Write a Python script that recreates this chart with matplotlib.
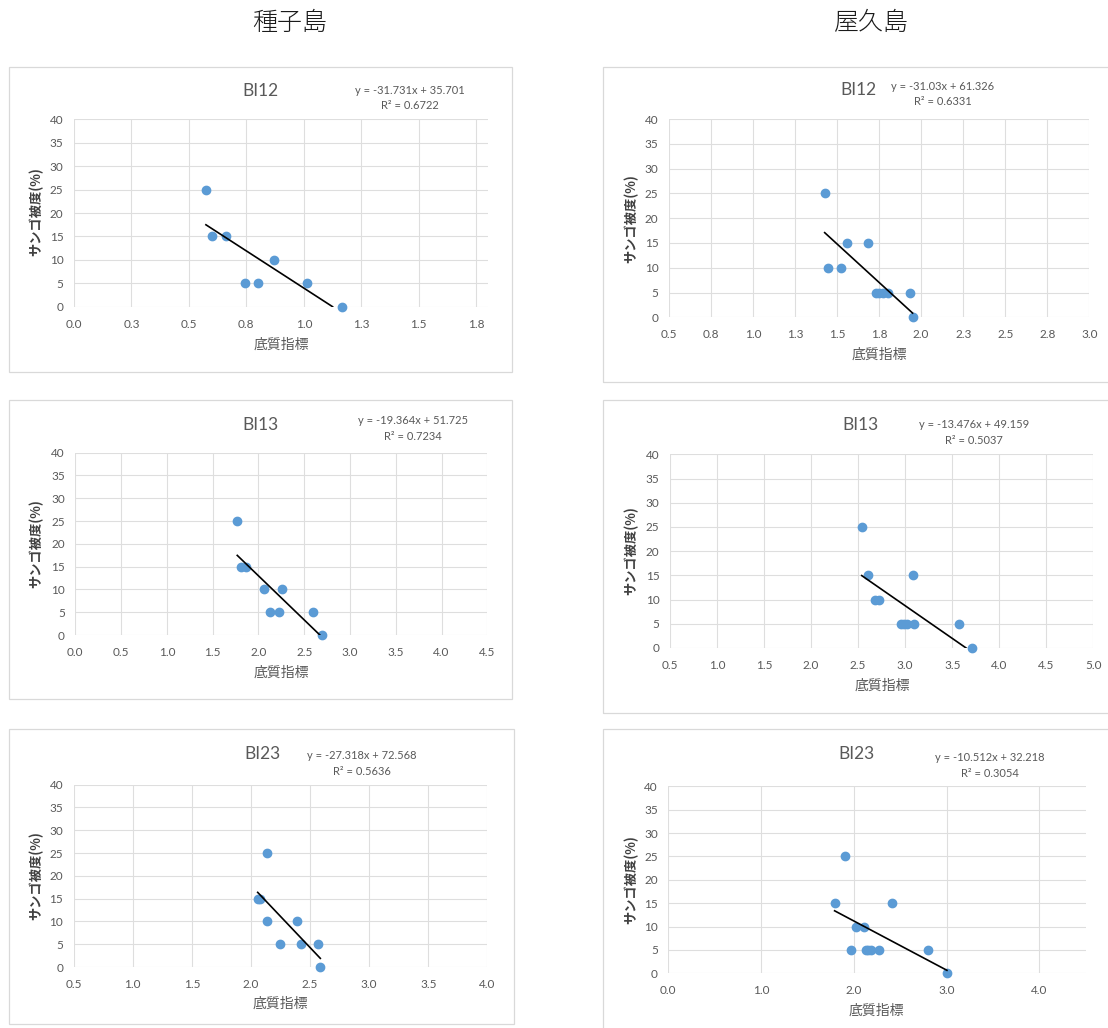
import matplotlib
matplotlib.use("Agg")
import matplotlib.pyplot as plt
from matplotlib.patches import Rectangle
import numpy as np

plt.rcParams['font.family'] = ['Lato', 'Noto Sans CJK JP', 'DejaVu Sans']

W, H = 1108, 1028

# ---- data -------------------------------------------------------------
island_names = ["種子島", "屋久島"]
index_names = ["BI12", "BI13", "BI23"]

# 種子島
tane_bi12_x = [0.574, 0.600, 0.663, 0.869, 0.746, 0.801, 1.014, 1.165]
tane_bi12_y = [25, 15, 15, 10, 5, 5, 5, 0]
tane_bi13_x = [1.769, 1.813, 1.864, 2.057, 2.253, 2.126, 2.224, 2.599, 2.694]
tane_bi13_y = [25, 15, 15, 10, 10, 5, 5, 5, 0]
tane_bi23_x = [2.138, 2.057, 2.079, 2.138, 2.392, 2.243, 2.426, 2.570, 2.587]
tane_bi23_y = [25, 15, 15, 10, 10, 5, 5, 5, 0]

# 屋久島
yaku_bi12_x = [1.426, 1.557, 1.682, 1.446, 1.523, 1.731, 1.751, 1.771, 1.805, 1.933, 1.949]
yaku_bi12_y = [25, 15, 15, 10, 10, 5, 5, 5, 5, 5, 0]
yaku_bi13_x = [2.538, 2.601, 3.083, 2.679, 2.718, 2.952, 2.988, 3.023, 3.094, 3.569, 3.707]
yaku_bi13_y = [25, 15, 15, 10, 10, 5, 5, 5, 5, 5, 0]
yaku_bi23_x = [1.901, 1.793, 2.407, 2.019, 2.113, 1.973, 2.127, 2.156, 2.185, 2.271, 2.796, 3.004]
yaku_bi23_y = [25, 15, 15, 10, 10, 5, 5, 5, 5, 5, 5, 0]

# linear trendlines (slope, intercept, R^2)
tane_fits = [(-31.731, 35.701, 0.6722), (-19.364, 51.725, 0.7234), (-27.318, 72.568, 0.5636)]
yaku_fits = [(-31.03, 61.326, 0.6331), (-13.476, 49.159, 0.5037), (-10.512, 32.218, 0.3054)]

# x axes: limits, gridline positions, tick labels
tane_xlims = [(0.0, 1.8), (0.0, 4.5), (0.5, 4.0)]
tane_xticks = [[0.0, 0.25, 0.5, 0.75, 1.0, 1.25, 1.5, 1.75],
               [0.0, 0.5, 1.0, 1.5, 2.0, 2.5, 3.0, 3.5, 4.0, 4.5],
               [0.5, 1.0, 1.5, 2.0, 2.5, 3.0, 3.5, 4.0]]
tane_xlabels = [["0.0", "0.3", "0.5", "0.8", "1.0", "1.3", "1.5", "1.8"],
                ["0.0", "0.5", "1.0", "1.5", "2.0", "2.5", "3.0", "3.5", "4.0", "4.5"],
                ["0.5", "1.0", "1.5", "2.0", "2.5", "3.0", "3.5", "4.0"]]
yaku_xlims = [(0.5, 3.0), (0.5, 5.0), (0.0, 4.5)]
yaku_xticks = [[0.5, 0.75, 1.0, 1.25, 1.5, 1.75, 2.0, 2.25, 2.5, 2.75, 3.0],
               [0.5, 1.0, 1.5, 2.0, 2.5, 3.0, 3.5, 4.0, 4.5, 5.0],
               [0.0, 1.0, 2.0, 3.0, 4.0]]
yaku_xlabels = [["0.5", "0.8", "1.0", "1.3", "1.5", "1.8", "2.0", "2.3", "2.5", "2.8", "3.0"],
                ["0.5", "1.0", "1.5", "2.0", "2.5", "3.0", "3.5", "4.0", "4.5", "5.0"],
                ["0.0", "1.0", "2.0", "3.0", "4.0"]]

y_ticks = [0, 5, 10, 15, 20, 25, 30, 35, 40]
y_label = "サンゴ被度(%)"
x_label = "底質指標"

# ---- layout (pixel boxes) --------------------------------------------
# frame: (left, top, right, bottom); plot area: (left, top, right, bottom)
tane_layout = [
    dict(frame=(9, 67, 512, 372), plot=(74, 119.3, 487.7, 306.7),
         title=(260, 91), eq=(410, 90), ylab=(36.7, 211.7), xlab=(281.7, 344.3)),
    dict(frame=(9, 400, 512, 699), plot=(75.3, 452.7, 487.3, 635),
         title=(260, 424.5), eq=(413, 420.7), ylab=(36.7, 543.3), xlab=(281.7, 672.3)),
    dict(frame=(9, 729, 514, 1024), plot=(73.7, 784.7, 487.3, 967),
         title=(262, 754), eq=(361.7, 755.7), ylab=(36, 875.7), xlab=(280.7, 1003.7)),
]
yaku_layout = [
    dict(frame=(603, 67, 1112, 382), plot=(669, 119, 1089.3, 317.3),
         title=(858, 90), eq=(943, 86), ylab=(631.7, 218.3), xlab=(879.3, 355)),
    dict(frame=(603, 400, 1112, 713), plot=(670, 454.3, 1093.3, 648),
         title=(860, 425), eq=(974, 425), ylab=(631.7, 551), xlab=(882.7, 685.7)),
    dict(frame=(603, 729, 1112, 1032), plot=(668.3, 786.3, 1085.7, 973.3),
         title=(857, 754), eq=(990, 757.7), ylab=(631.7, 880), xlab=(876.7, 1011)),
]

GRID = "#DEDEDE"
FRAME = "#D9D9D9"
TEXT = "#595959"
BLUE = "#5B9BD5"

fig = plt.figure(figsize=(W / 100, H / 100), dpi=100)
fig.patch.set_facecolor("white")


def fx(x):
    return x / W


def fy(y):
    return 1 - y / H


def panel(lay, name, xs, ys, fit, xlim, xticks, xlabels):
    fl, ft, fr, fb = lay["frame"]
    fig.patches.append(Rectangle((fx(fl), fy(fb)), fx(fr) - fx(fl), fy(ft) - fy(fb),
                                 transform=fig.transFigure, facecolor="none",
                                 edgecolor=FRAME, linewidth=0.9, zorder=0))
    pl, pt, pr, pb = lay["plot"]
    ax = fig.add_axes([fx(pl), fy(pb), fx(pr) - fx(pl), fy(pt) - fy(pb)])
    ax.set_xlim(*xlim)
    ax.set_ylim(0, 40)
    ax.set_xticks(xticks)
    ax.set_xticklabels(xlabels)
    ax.set_yticks(y_ticks)
    ax.grid(True, color=GRID, linewidth=0.8)
    ax.set_axisbelow(True)
    for s in ax.spines.values():
        s.set_visible(False)
    ax.tick_params(length=0, labelsize=8.5, labelcolor=TEXT)
    ax.tick_params(axis="x", pad=8.5)
    ax.tick_params(axis="y", pad=7.5)

    ax.plot(xs, ys, linestyle="none", marker="o", markersize=6,
            markerfacecolor=BLUE, markeredgecolor=BLUE, clip_on=False, zorder=3)

    slope, icpt, r2 = fit
    x0 = min(xs)
    x1 = min(max(xs), -icpt / slope)  # trendline stops at the y=0 floor
    tx = np.array([x0, x1])
    ax.plot(tx, slope * tx + icpt, color="black", linewidth=1.2, zorder=4)

    fig.text(fx(lay["title"][0]), fy(lay["title"][1]), name, ha="center", va="center",
             fontsize=12.5, color=TEXT)
    ex, ey = lay["eq"]
    sign = "+" if icpt >= 0 else "-"
    fig.text(fx(ex), fy(ey), f"y = {slope:g}x {sign} {abs(icpt):g}", ha="center",
             va="center", fontsize=8, color=TEXT)
    fig.text(fx(ex), fy(ey + 15.5), f"R² = {r2:.4f}", ha="center", va="center",
             fontsize=8, color=TEXT)
    fig.text(fx(lay["ylab"][0]), fy(lay["ylab"][1]), y_label, rotation=90,
             ha="center", va="center", fontsize=9.5, fontweight="bold", color="#404040",
             family=["Noto Sans CJK JP", "DejaVu Sans"])
    fig.text(fx(lay["xlab"][0]), fy(lay["xlab"][1]), x_label, ha="center", va="center",
             fontsize=10, color=TEXT, family=["Noto Sans CJK JP", "DejaVu Sans"])


tane_data = [(tane_bi12_x, tane_bi12_y), (tane_bi13_x, tane_bi13_y), (tane_bi23_x, tane_bi23_y)]
yaku_data = [(yaku_bi12_x, yaku_bi12_y), (yaku_bi13_x, yaku_bi13_y), (yaku_bi23_x, yaku_bi23_y)]

for i in range(3):
    panel(tane_layout[i], index_names[i], *tane_data[i], tane_fits[i],
          tane_xlims[i], tane_xticks[i], tane_xlabels[i])
    panel(yaku_layout[i], index_names[i], *yaku_data[i], yaku_fits[i],
          yaku_xlims[i], yaku_xticks[i], yaku_xlabels[i])

fig.text(fx(290), fy(23), island_names[0], ha="center", va="center", fontsize=18,
         fontweight="light", color="#1a1a1a", family=["Noto Sans CJK JP", "DejaVu Sans"])
fig.text(fx(871), fy(23), island_names[1], ha="center", va="center", fontsize=18,
         fontweight="light", color="#1a1a1a", family=["Noto Sans CJK JP", "DejaVu Sans"])

fig.savefig("out.png", dpi=100, facecolor="white")
